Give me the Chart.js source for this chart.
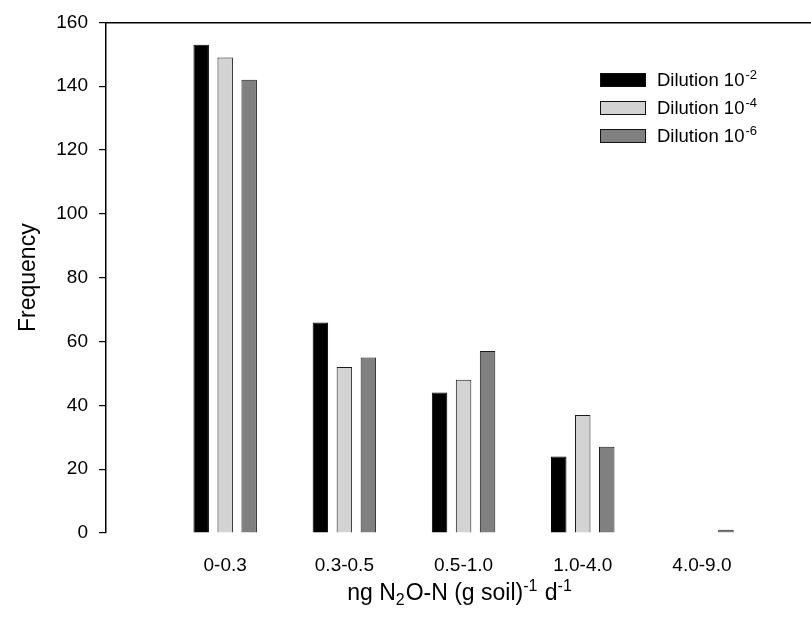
<!DOCTYPE html>
<html>
<head>
<meta charset="utf-8">
<script src="https://cdn.jsdelivr.net/npm/chart.js@4.4.1/dist/chart.umd.min.js"></script>
<style>
  html, body { margin: 0; padding: 0; background: #fff; }
  #wrap { width: 811px; height: 621px; }
</style>
</head>
<body>
<div id="wrap"><canvas id="c"></canvas></div>
<script>
// categories on the x axis (placed at x = 1..5)
const categories = ['0-0.3', '0.3-0.5', '0.5-1.0', '1.0-4.0', '4.0-9.0'];
const dilution2 = [153, 66, 44, 24, 0];
const dilution4 = [149, 52, 48, 37, 0];
const dilution6 = [142, 55, 57, 27, 1];
const seriesExp = ['-2', '-4', '-6'];
const yTicks = [0, 20, 40, 60, 80, 100, 120, 140, 160];

const FONT = '"Liberation Sans", Arial, Helvetica, sans-serif';

const toPoints = arr => arr.map((v, i) => ({ x: i + 1, y: v }));

// legend with superscripts, drawn on the canvas
const supLegend = {
  id: 'supLegend',
  afterDraw(chart) {
    const ctx = chart.ctx;
    ctx.save();
    chart.data.datasets.forEach((ds, i) => {
      const y = 80 + i * 28;
      ctx.fillStyle = ds.backgroundColor;
      ctx.fillRect(600, y - 7, 46, 14);
      ctx.strokeStyle = '#111';
      ctx.lineWidth = 1;
      ctx.strokeRect(600.5, y - 6.5, 45, 13);
      ctx.fillStyle = '#000';
      ctx.textAlign = 'left';
      ctx.textBaseline = 'middle';
      ctx.font = '18.5px ' + FONT;
      ctx.fillText('Dilution 10', 657, y + 1);
      const w = ctx.measureText('Dilution 10').width;
      ctx.font = '13px ' + FONT;
      ctx.fillText(seriesExp[i], 657 + w + 1, y - 5);
    });
    ctx.restore();
  }
};

// x axis title with sub/superscripts
const xTitle = {
  id: 'xTitle',
  afterDraw(chart) {
    const ctx = chart.ctx;
    const parts = [
      { t: 'ng N', k: 0 }, { t: '2', k: 1 }, { t: 'O-N (g soil)', k: 0 },
      { t: '-1', k: -1 }, { t: ' d', k: 0 }, { t: '-1', k: -1 }
    ];
    const big = '23px ' + FONT, small = '16px ' + FONT;
    ctx.save();
    let total = 0;
    parts.forEach(p => { ctx.font = p.k ? small : big; p.w = ctx.measureText(p.t).width; total += p.w; });
    const ca = chart.chartArea;
    let x = (ca.left + ca.right) / 2 - total / 2;
    const base = 600;
    ctx.fillStyle = '#000';
    ctx.textAlign = 'left';
    ctx.textBaseline = 'alphabetic';
    parts.forEach(p => {
      ctx.font = p.k ? small : big;
      const dy = p.k === 1 ? 5 : (p.k === -1 ? -9 : 0);
      ctx.fillText(p.t, x, base + dy);
      x += p.w + (p.k ? 1 : 0);
    });
    ctx.restore();
  }
};

new Chart(document.getElementById('c'), {
  type: 'bar',
  data: {
    datasets: [
      { label: 'Dilution 10-2', data: toPoints(dilution2), backgroundColor: '#000000', borderColor: '#000000', borderWidth: 1 },
      { label: 'Dilution 10-4', data: toPoints(dilution4), backgroundColor: '#d3d3d3', borderColor: '#1a1a1a', borderWidth: 1 },
      { label: 'Dilution 10-6', data: toPoints(dilution6), backgroundColor: '#808080', borderColor: '#1a1a1a', borderWidth: 1 }
    ]
  },
  options: {
    responsive: true,
    maintainAspectRatio: false,
    animation: false,
    layout: { padding: { top: 21, right: 0, bottom: 0, left: 0 } },
    datasets: { bar: { categoryPercentage: 0.604, barPercentage: 0.645 } },
    plugins: { legend: { display: false }, tooltip: { enabled: false } },
    scales: {
      x: {
        type: 'linear',
        offset: false,
        min: 0,
        max: 5.915,
        grid: { display: false, offset: false },
        border: { display: false },
        afterBuildTicks: s => { s.ticks = categories.map((c, i) => ({ value: i + 1 })); },
        afterFit: s => { s.height = 88; },
        ticks: {
          color: '#000',
          font: { family: FONT, size: 19 },
          padding: 13,
          maxRotation: 0,
          autoSkip: false,
          callback: v => categories[v - 1] || ''
        }
      },
      xTop: {
        type: 'linear',
        position: 'top',
        offset: false,
        min: 0,
        max: 5.915,
        grid: { display: false },
        border: { display: true, color: '#000', width: 1.5 },
        ticks: { display: false },
        afterFit: s => { s.height = 0; }
      },
      y: {
        min: 0,
        max: 160,
        afterBuildTicks: s => { s.ticks = yTicks.map(v => ({ value: v })); },
        afterFit: s => { s.width = 106; },
        grid: { drawOnChartArea: false, drawTicks: true, tickLength: 7, color: '#000', lineWidth: 1.2 },
        border: { display: true, color: '#000', width: 1.5 },
        ticks: { color: '#000', font: { family: FONT, size: 19 }, padding: 11 },
        title: {
          display: true,
          text: 'Frequency',
          color: '#000',
          font: { family: FONT, size: 23 },
          padding: { top: 15, bottom: 0 }
        }
      }
    }
  },
  plugins: [supLegend, xTitle]
});
</script>
</body>
</html>
